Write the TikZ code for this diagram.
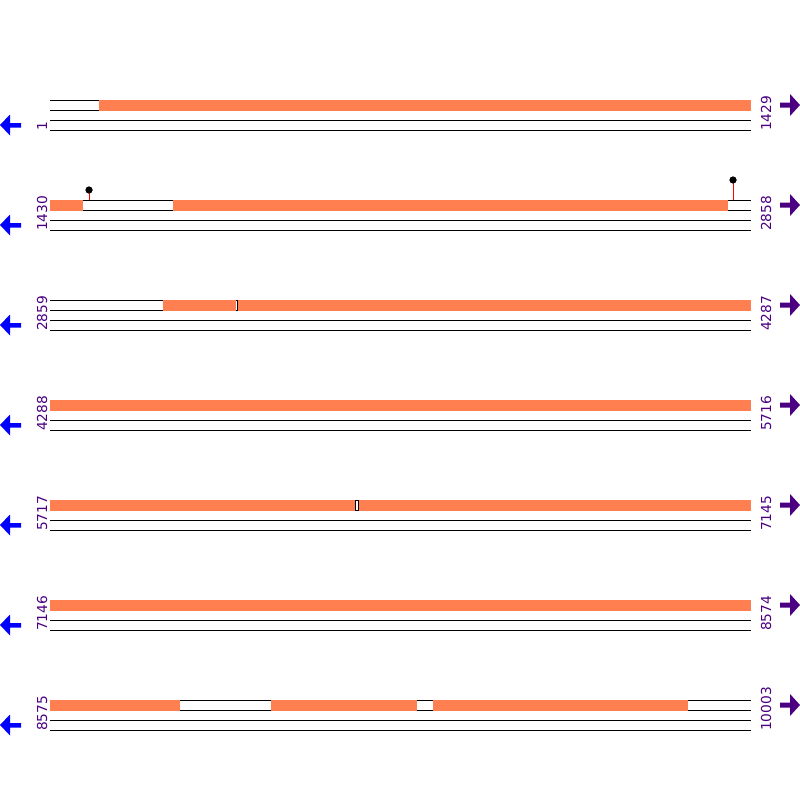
\documentclass[tikz,border=0pt]{standalone}
\usepackage{fontspec}
\setmainfont{DejaVu Sans}
\definecolor{segc}{RGB}{255,127,80}
\definecolor{labc}{RGB}{75,0,130}
\definecolor{revc}{RGB}{0,0,255}
\begin{document}
\begin{tikzpicture}[x=1pt,y=-1pt,
  track/.style={draw=black,line width=1pt},
  seg/.style={fill=segc,draw=none},
  lbl/.style={text=labc,font=\fontsize{13.75}{14}\selectfont,rotate=90,anchor=base west,inner sep=0pt},
  fwd/.style={fill=labc,draw=none},
  rev/.style={fill=revc,draw=none},
  stem/.style={draw=red,line width=1pt},
  knob/.style={fill=black,draw=none}]
\useasboundingbox (0,0) rectangle (800,800);
% tracks and labels
\foreach \k/\l/\r in {0/1/1429,1/1430/2858,2/2859/4287,3/4288/5716,4/5717/7145,5/7146/8574,6/8575/10003}{
  \pgfmathsetmacro{\yy}{100+100*\k}
  \draw[track] (50,\yy) -- (751,\yy);
  \draw[track] (50,\yy+10) -- (751,\yy+10);
  \draw[track] (50,\yy+20) -- (751,\yy+20);
  \draw[track] (50,\yy+30) -- (751,\yy+30);
  \node[lbl] (L\k) at (47,\yy+31) {\l};
  \node[lbl] (R\k) at (771,\yy+31) {\r};
  \fill[rev] (0,\yy+25) -- (10,\yy+14.5) -- (10,\yy+23) -- (21,\yy+23) -- (21,\yy+27.5) -- (10,\yy+27.5) -- (10,\yy+35.5) -- cycle;
  \fill[fwd] (800,\yy+5) -- (790,\yy-6) -- (790,\yy+2.5) -- (780,\yy+2.5) -- (780,\yy+7.5) -- (790,\yy+7.5) -- (790,\yy+16) -- cycle;
}
% segments
\fill[seg] (99,99.5) rectangle (751,110.5);
\fill[seg] (50,199.5) rectangle (83,210.5);
\fill[seg] (173,199.5) rectangle (728,210.5);
\fill[seg] (163,299.5) rectangle (236.3,310.5);
\fill[seg] (237.7,299.5) rectangle (751,310.5);
\draw[black,line width=0.7pt] (237.4,299.5) -- (237.4,310.5);
\fill[seg] (50,399.5) rectangle (751,410.5);
\fill[seg] (50,499.5) rectangle (355,510.5);
\fill[seg] (359,499.5) rectangle (751,510.5);
\draw[black,line width=0.6pt] (355.3,500) -- (355.3,510) (358.7,500) -- (358.7,510);
\fill[seg] (50,599.5) rectangle (751,610.5);
\fill[seg] (50,699.5) rectangle (180,710.5);
\fill[seg] (271,699.5) rectangle (416.5,710.5);
\fill[seg] (433,699.5) rectangle (688,710.5);
% lollipops
\coordinate (p1) at (89,200);
\coordinate (p2) at (733,200);
\node[knob,circle,minimum size=7pt,inner sep=0pt] (k1) at (89,190) {};
\node[knob,circle,minimum size=7pt,inner sep=0pt] (k2) at (733,180) {};
\draw[stem] (k1.center) -- (p1);
\draw[stem] (k2.center) -- (p2);
\node[knob,circle,minimum size=7pt,inner sep=0pt] at (k1.center) {};
\node[knob,circle,minimum size=7pt,inner sep=0pt] at (k2.center) {};
\end{tikzpicture}
\end{document}
